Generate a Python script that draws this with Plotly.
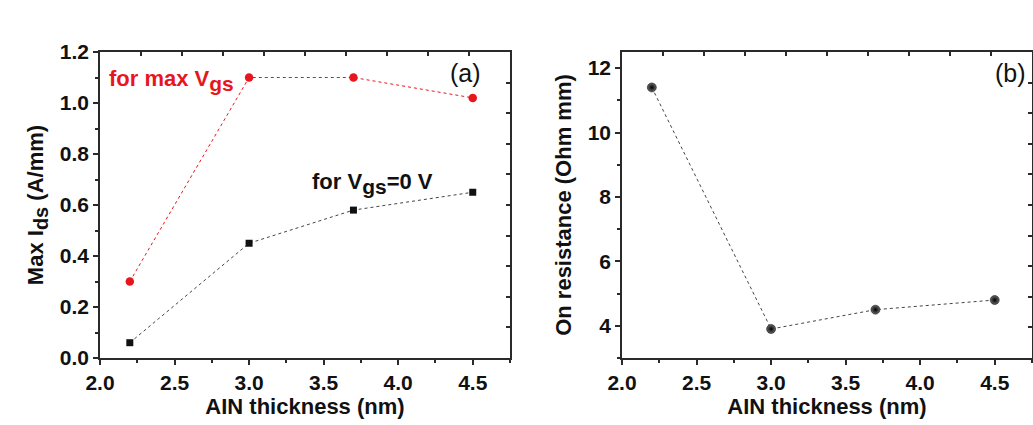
import plotly.graph_objects as go

# AlN barrier thickness (nm) for the four samples
thickness = [2.2, 3.0, 3.7, 4.5]

# (a) maximum drain current density, A/mm
ids_max_vgs = [0.30, 1.10, 1.10, 1.02]
ids_vgs0 = [0.06, 0.45, 0.58, 0.65]

# (b) on resistance, Ohm mm
r_on = [11.4, 3.9, 4.5, 4.8]

FONT = "Liberation Sans, Arial, sans-serif"
RED = "#e8161c"
AXIS = "#2a2a2a"
INK = "#111111"


def sub(s, size):
    # subscript kept close to the body size
    return f"<sub><span style='font-size:{size}px'>{s}</span></sub>"


fig = go.Figure()

fig.add_trace(go.Scatter(
    x=thickness, y=ids_max_vgs, mode="lines+markers",
    line=dict(color=RED, width=1, dash="dot"),
    marker=dict(symbol="circle", size=8.5, color=RED),
    xaxis="x", yaxis="y", showlegend=False))
fig.add_trace(go.Scatter(
    x=thickness, y=ids_vgs0, mode="lines+markers",
    line=dict(color="#444444", width=1, dash="dot"),
    marker=dict(symbol="square", size=7, color=INK),
    xaxis="x", yaxis="y", showlegend=False))
fig.add_trace(go.Scatter(
    x=thickness, y=r_on, mode="lines+markers",
    line=dict(color="#444444", width=1, dash="dot"),
    marker=dict(symbol="circle", size=9, color="#6a6a6a",
                gradient=dict(type="radial", color="#000000"),
                line=dict(width=0.5, color="#000000")),
    xaxis="x2", yaxis="y2", showlegend=False))

# empty traces that carry the framing axes on top/right of each panel
for xa, ya in (("x3", "y3"), ("x4", "y4")):
    fig.add_trace(go.Scatter(x=[None], y=[None], xaxis=xa, yaxis=ya,
                             showlegend=False, hoverinfo="skip"))

dom_y = [67 / 425, 373 / 425]
dom_a = [100 / 1033, 510 / 1033]
dom_b = [622 / 1033, 1032 / 1033]

tickfont = dict(family=FONT, size=21, color=INK, weight="bold")
titlefont = dict(family=FONT, size=22, color=INK, weight="bold")


def xaxis(domain, anchor):
    return dict(domain=domain, anchor=anchor, range=[2.0, 4.75],
                tickvals=[2.0, 2.5, 3.0, 3.5, 4.0, 4.5],
                ticktext=["2.0", "2.5", "3.0", "3.5", "4.0", "4.5"],
                ticks="outside", ticklen=5, tickwidth=1.5, tickcolor=AXIS,
                minor=dict(dtick=0.25, tick0=2.0, ticks="outside", ticklen=3,
                           tickwidth=1.5, tickcolor=AXIS),
                showline=True, linecolor=AXIS, linewidth=1.5,
                showgrid=False, zeroline=False, tickfont=tickfont,
                automargin=False,
                title=dict(text="AIN thickness (nm)", font=titlefont, standoff=6))


def frame_x(overlay, anchor):
    return dict(overlaying=overlay, anchor=anchor, side="top", range=[0, 10],
                tickvals=list(range(1, 10)), ticks="inside", ticklen=4,
                tickwidth=1.5, tickcolor=AXIS, showticklabels=False,
                showline=True, linecolor=AXIS, linewidth=1.5,
                showgrid=False, zeroline=False, automargin=False)


def frame_y(overlay, anchor):
    return dict(overlaying=overlay, anchor=anchor, side="right", range=[0, 10],
                tickvals=list(range(1, 10)), ticks="inside", ticklen=4,
                tickwidth=1.5, tickcolor=AXIS, showticklabels=False,
                showline=True, linecolor=AXIS, linewidth=1.5,
                showgrid=False, zeroline=False, automargin=False)


fig.update_layout(
    width=1033, height=425,
    margin=dict(l=0, r=0, t=0, b=0),
    paper_bgcolor="white", plot_bgcolor="white",
    xaxis=xaxis(dom_a, "y"),
    xaxis2=xaxis(dom_b, "y2"),
    yaxis=dict(domain=dom_y, anchor="x", range=[0, 1.2],
               tickvals=[0.0, 0.2, 0.4, 0.6, 0.8, 1.0, 1.2],
               ticktext=["0.0", "0.2", "0.4", "0.6", "0.8", "1.0", "1.2"],
               ticks="outside", ticklen=5, tickwidth=1.5, tickcolor=AXIS,
               minor=dict(dtick=0.1, tick0=0, ticks="outside", ticklen=3,
                          tickwidth=1.5, tickcolor=AXIS),
               showline=True, linecolor=AXIS, linewidth=1.5,
               showgrid=False, zeroline=False, tickfont=tickfont,
               automargin=False,
               title=dict(text="Max I" + sub("ds", 20) + " (A/mm)",
                          font=titlefont, standoff=10)),
    yaxis2=dict(domain=dom_y, anchor="x2", range=[3, 12.5],
                tickvals=[4, 6, 8, 10, 12],
                ticks="outside", ticklen=5, tickwidth=1.5, tickcolor=AXIS,
                minor=dict(dtick=1, tick0=3, ticks="outside", ticklen=3,
                           tickwidth=1.5, tickcolor=AXIS),
                showline=True, linecolor=AXIS, linewidth=1.5,
                showgrid=False, zeroline=False, tickfont=tickfont,
                automargin=False,
                title=dict(text="On resistance (Ohm mm)", font=titlefont, standoff=10)),
    xaxis3=frame_x("x", "y3"),
    yaxis3=frame_y("y", "x3"),
    xaxis4=frame_x("x2", "y4"),
    yaxis4=frame_y("y2", "x4"),
)

labelfont = dict(family=FONT, size=22, weight="bold")
fig.add_annotation(x=107 / 1033, y=1 - 80 / 425, xref="paper", yref="paper",
                   xanchor="left", yanchor="middle", showarrow=False,
                   text="for max V" + sub("gs", 21),
                   font=dict(labelfont, color=RED))
fig.add_annotation(x=310 / 1033, y=1 - 183 / 425, xref="paper", yref="paper",
                   xanchor="left", yanchor="middle", showarrow=False,
                   text="for V" + sub("gs", 21) + "=0 V",
                   font=dict(labelfont, color=INK))
fig.add_annotation(x=465 / 1033, y=1 - 73 / 425, xref="paper", yref="paper",
                   xanchor="center", yanchor="middle", showarrow=False,
                   text="(a)", font=dict(family=FONT, size=25, color=INK))
fig.add_annotation(x=1010 / 1033, y=1 - 73 / 425, xref="paper", yref="paper",
                   xanchor="center", yanchor="middle", showarrow=False,
                   text="(b)", font=dict(family=FONT, size=25, color=INK))

fig.write_html("out.html")
